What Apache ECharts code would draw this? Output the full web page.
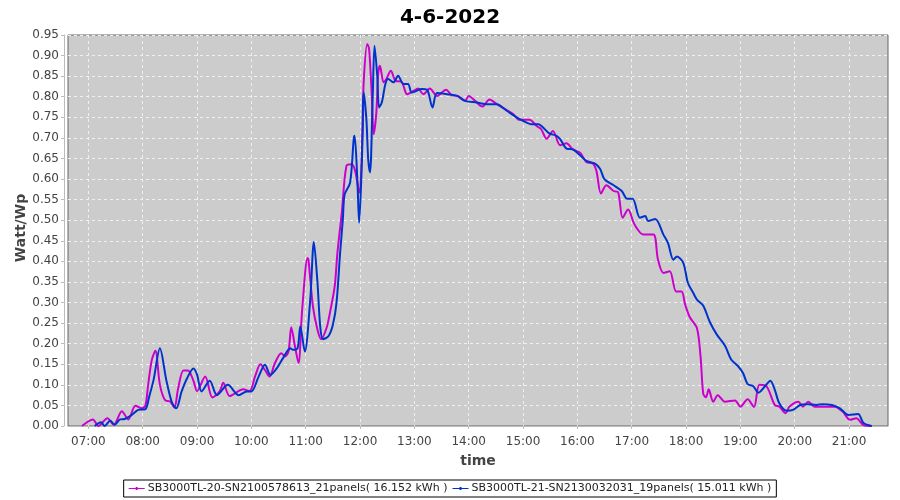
<!DOCTYPE html>
<html>
<head>
<meta charset="utf-8">
<script src="https://cdn.jsdelivr.net/npm/echarts@6/dist/echarts.min.js"></script>
<style>html,body{margin:0;padding:0;background:#fff}#c{width:900px;height:500px}</style>
</head>
<body>
<div id="c"></div>
<script>
const chartTitle = '4-6-2022';
const yAxisTitle = 'Watt/Wp';
const xAxisTitle = 'time';
const seriesNames = [
  'SB3000TL-20-SN2100578613_21panels( 16.152 kWh )',
  'SB3000TL-21-SN2130032031_19panels( 15.011 kWh )'
];
const xTickLabels = ['07:00','08:00','09:00','10:00','11:00','12:00','13:00','14:00','15:00','16:00','17:00','18:00','19:00','20:00','21:00'];

const magentaTimes = ['06:53','07:05','07:11','07:21','07:28','07:37','07:44','07:52','07:59','08:03','08:06','08:10','08:14','08:19','08:25','08:30','08:35','08:39','08:45','08:50','08:56','09:00','09:09','09:17','09:25','09:29','09:36','09:51','09:58','10:04','10:10','10:15','10:20','10:26','10:33','10:37','10:41','10:44','10:48','10:52','10:56','11:02','11:03','11:08','11:13','11:17','11:23','11:27','11:32','11:35','11:40','11:45','11:51','11:55','11:59','12:03','12:04','12:08','12:10','12:13','12:15','12:18','12:20','12:22','12:26','12:29','12:34','12:39','12:46','12:52','12:59','13:04','13:10','13:17','13:25','13:35','13:41','13:48','13:56','14:00','14:07','14:15','14:23','14:31','14:40','14:49','14:56','15:07','15:15','15:20','15:26','15:33','15:41','15:48','15:55','16:03','16:10','16:17','16:21','16:26','16:32','16:40','16:45','16:50','16:56','17:03','17:13','17:24','17:29','17:35','17:42','17:49','17:55','17:59','18:04','18:12','18:16','18:19','18:22','18:25','18:30','18:35','18:43','18:54','19:00','19:08','19:15','19:21','19:29','19:38','19:43','19:50','19:54','20:04','20:09','20:15','20:22','20:35','20:44','20:53','21:01','21:08','21:16','21:25'];
const magentaValues = [0.0,0.016,0.0,0.019,0.003,0.036,0.016,0.049,0.043,0.05,0.10,0.16,0.183,0.10,0.062,0.06,0.045,0.09,0.135,0.135,0.11,0.085,0.12,0.069,0.084,0.105,0.073,0.089,0.085,0.12,0.15,0.136,0.12,0.153,0.177,0.169,0.181,0.240,0.195,0.153,0.28,0.408,0.404,0.29,0.234,0.211,0.238,0.278,0.339,0.42,0.522,0.632,0.636,0.616,0.567,0.721,0.835,0.928,0.916,0.802,0.709,0.762,0.855,0.875,0.835,0.843,0.863,0.839,0.836,0.806,0.814,0.820,0.806,0.820,0.802,0.817,0.804,0.802,0.790,0.802,0.790,0.776,0.793,0.782,0.770,0.758,0.744,0.744,0.729,0.721,0.698,0.717,0.682,0.687,0.672,0.664,0.641,0.638,0.620,0.565,0.585,0.571,0.568,0.506,0.526,0.490,0.465,0.465,0.404,0.372,0.376,0.327,0.327,0.295,0.265,0.238,0.169,0.078,0.070,0.089,0.059,0.075,0.059,0.062,0.047,0.065,0.046,0.100,0.096,0.051,0.047,0.031,0.047,0.059,0.047,0.059,0.047,0.047,0.047,0.035,0.015,0.019,0.002,0.0];

const blueTimes = ['07:07','07:14','07:18','07:24','07:29','07:35','07:40','07:48','07:55','08:03','08:07','08:12','08:19','08:26','08:32','08:37','08:43','08:49','08:56','09:00','09:05','09:14','09:22','09:34','09:46','09:55','10:00','10:08','10:15','10:21','10:28','10:35','10:43','10:46','10:51','10:54','10:59','11:05','11:09','11:13','11:16','11:19','11:25','11:30','11:34','11:38','11:41','11:43','11:49','11:53','11:54','11:57','11:59','12:02','12:04','12:07','12:09','12:11','12:14','12:16','12:19','12:21','12:24','12:28','12:31','12:37','12:42','12:48','12:53','12:57','13:02','13:08','13:14','13:20','13:25','13:36','13:47','13:56','14:09','14:20','14:31','14:42','14:53','15:04','15:09','15:17','15:24','15:29','15:37','15:41','15:48','15:55','16:03','16:10','16:19','16:25','16:30','16:40','16:49','16:55','17:01','17:09','17:15','17:18','17:26','17:35','17:40','17:46','17:50','17:57','18:02','18:08','18:12','18:19','18:26','18:34','18:43','18:50','18:58','19:03','19:08','19:14','19:20','19:27','19:33','19:38','19:43','19:51','19:58','20:06','20:13','20:24','20:31','20:41','20:50','20:59','21:10','21:16','21:25'];
const blueValues = [0.0,0.009,0.0,0.013,0.003,0.016,0.017,0.027,0.039,0.041,0.07,0.112,0.189,0.112,0.059,0.043,0.084,0.116,0.14,0.125,0.084,0.11,0.075,0.1,0.075,0.084,0.084,0.12,0.149,0.124,0.14,0.165,0.189,0.185,0.189,0.242,0.181,0.307,0.447,0.348,0.242,0.211,0.218,0.246,0.299,0.421,0.502,0.563,0.591,0.697,0.705,0.599,0.494,0.64,0.810,0.745,0.648,0.616,0.802,0.924,0.851,0.774,0.786,0.831,0.843,0.835,0.851,0.831,0.831,0.810,0.814,0.819,0.817,0.774,0.809,0.806,0.802,0.790,0.786,0.782,0.782,0.766,0.750,0.737,0.733,0.733,0.721,0.711,0.705,0.697,0.674,0.672,0.658,0.644,0.638,0.625,0.599,0.585,0.571,0.552,0.552,0.506,0.510,0.498,0.503,0.465,0.445,0.404,0.412,0.396,0.348,0.323,0.307,0.292,0.254,0.222,0.195,0.161,0.144,0.128,0.102,0.097,0.081,0.096,0.110,0.088,0.055,0.037,0.039,0.051,0.053,0.051,0.053,0.051,0.043,0.027,0.029,0.007,0.0];

function toMin(s){const p=s.split(':');return (+p[0])*60+(+p[1]);}
function pad(n){return (n<10?'0':'')+n;}
function fmt(m){return pad(Math.floor(m/60))+':'+pad(Math.round(m%60));}
function pairs(ts, vs){return ts.map((t,i)=>[toMin(t), vs[i]]);}
const tickMins = xTickLabels.map(toMin);

const chart = echarts.init(document.getElementById('c'), null, {renderer:'canvas'});
const FONT = 'DejaVu Sans';
chart.setOption({
  animation:false,
  backgroundColor:'#ffffff',
  textStyle:{fontFamily:FONT},
  title:{text:chartTitle,left:'center',top:3,textStyle:{fontFamily:FONT,fontSize:20,fontWeight:'bold',color:'#000'}},
  graphic:[
    {type:'text',x:21,y:228,rotation:Math.PI/2,
     style:{text:yAxisTitle,align:'center',verticalAlign:'middle',font:'bold 14px "DejaVu Sans"',fill:'#444'}}
  ],
  grid:{left:68,right:12,top:35,bottom:74,show:true,backgroundColor:'#cccccc',borderColor:'#666666',borderWidth:1},
  legend:{
    bottom:3,left:'center',
    data:seriesNames,
    borderColor:'#000',borderWidth:1,padding:[3,5,3,5],itemGap:5,
    itemWidth:16,itemHeight:6,
    icon:'path://M0,2.5 L16,2.5 L16,3.5 L0,3.5 Z M7,1.5 L9,1.5 L9,4.5 L7,4.5 Z',
    textStyle:{fontFamily:FONT,fontSize:11,color:'#222',padding:[0,0,0,-2]}
  },
  xAxis:{
    type:'value',min:397.5,max:1303,offset:4,
    name:xAxisTitle,nameLocation:'middle',nameGap:24,
    nameTextStyle:{fontFamily:FONT,fontSize:14,fontWeight:'bold',color:'#444'},
    axisLine:{show:true,lineStyle:{color:'#bbbbbb'}},
    axisTick:{show:true,length:3,customValues:tickMins,lineStyle:{color:'#bbbbbb'}},
    axisLabel:{customValues:tickMins,formatter:v=>fmt(v),fontFamily:FONT,fontSize:12,color:'#444',margin:6},
    splitLine:{show:true,lineStyle:{color:'#f0f0f0',type:[3,3],width:1}}
  },
  yAxis:{
    type:'value',min:0,max:0.95,interval:0.05,offset:4,
    axisLine:{show:true,lineStyle:{color:'#bbbbbb'}},
    axisTick:{show:true,length:3,lineStyle:{color:'#bbbbbb'}},
    axisLabel:{formatter:v=>v.toFixed(2),fontFamily:FONT,fontSize:12,color:'#444',margin:5},
    splitLine:{show:true,lineStyle:{color:'#f0f0f0',type:[3,3],width:1}}
  },
  series:[
    {name:seriesNames[0],type:'line',data:pairs(magentaTimes,magentaValues),showSymbol:false,smooth:0.3,
     lineStyle:{color:'#cc00cc',width:2},itemStyle:{color:'#cc00cc'}},
    {name:seriesNames[1],type:'line',data:pairs(blueTimes,blueValues),showSymbol:false,smooth:0.3,
     lineStyle:{color:'#0033cc',width:2},itemStyle:{color:'#0033cc'}}
  ]
});
</script>
</body>
</html>
